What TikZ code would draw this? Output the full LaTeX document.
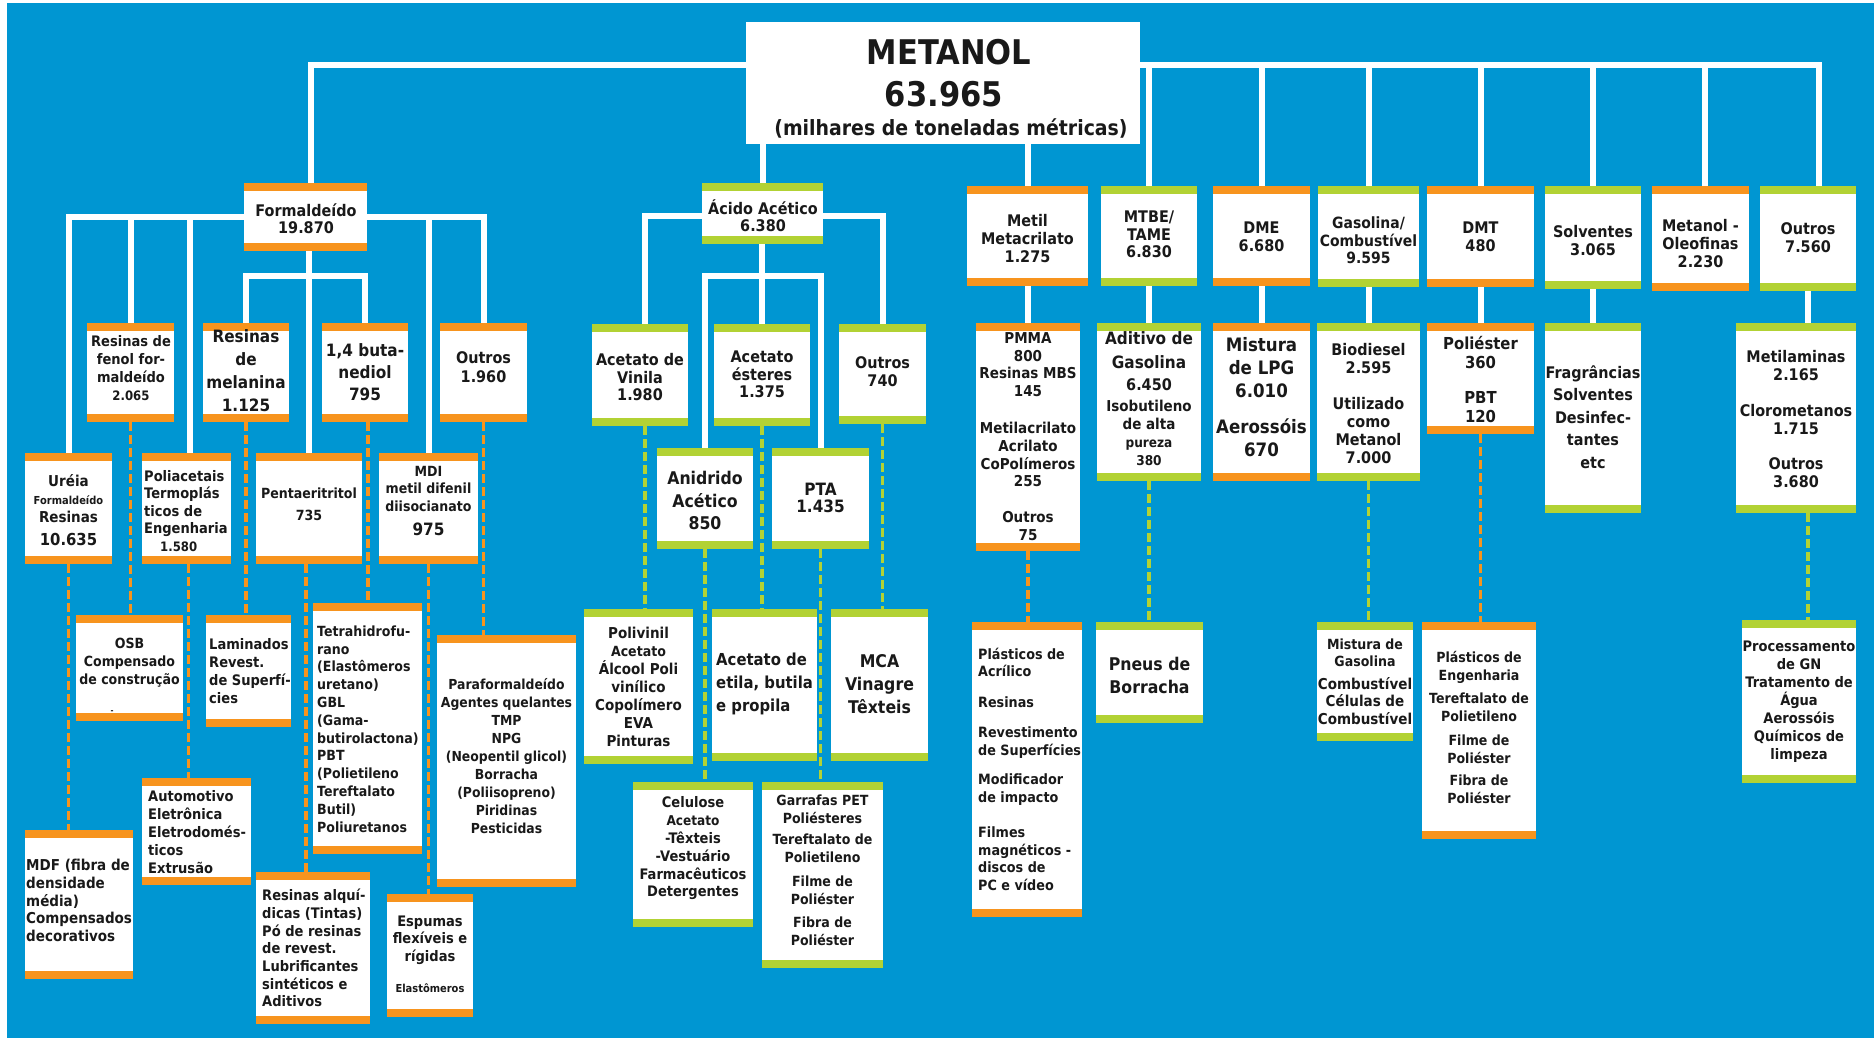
\documentclass[tikz,border=0pt]{standalone}
\usepackage{fontspec}
\setmainfont{DejaVu Sans}[FakeStretch=0.9]
\definecolor{sky}{RGB}{0,150,210}
\definecolor{amber}{RGB}{247,148,30}
\definecolor{lime}{RGB}{178,210,52}
\definecolor{ink}{RGB}{25,25,25}
\pgfdeclarelayer{back}
\pgfdeclarelayer{wires}
\pgfsetlayers{back,wires,main}
\newcommand\tsz[1]{\fontsize{#1}{#1}\selectfont}
\tikzset{
  panel/.style={fill=white, inner sep=0pt, outer sep=0pt, path picture={
      \fill[#1] (path picture bounding box.north west) rectangle ([yshift=-8pt]path picture bounding box.north east);
      \fill[#1] ([yshift=8pt]path picture bounding box.south west) rectangle (path picture bounding box.south east);}},
  conn/.style={draw=white, line width=6pt},
  dashline/.style={draw=#1, line width=3.5pt, dash pattern=on 9pt off 4pt},
  lbl/.style 2 args={inner sep=0pt, align=center, text=ink, font=\bfseries\fontsize{#1}{#2}\selectfont},
  lbll/.style 2 args={lbl={#1}{#2}, align=left, anchor=west},
}
% product box: name, x1, y1, x2, y2, bar colour
\newcommand\pbox[6]{\node[panel=#6, minimum width={(#4-#2)*1pt}, minimum height={(#5-#3)*1pt}] (#1) at ({(#2+#4)/2},{(#3+#5)/2}) {};}
\begin{document}
\begin{tikzpicture}[x=1pt, y=-1pt]
\useasboundingbox (0,0) rectangle (1874,1038);
\begin{pgfonlayer}{back}
  \fill[white] (0,0) rectangle (1874,1038);
  \fill[sky] (7,3) rectangle (1874,1038);
\end{pgfonlayer}

% root
\node[fill=white, inner sep=0pt, minimum width=394pt, minimum height=122pt] (metanol) at (943,83) {};
\node[lbl={34}{40}] (t-met1) at (949,52) {METANOL};
\node[lbl={34}{40}] (t-met2) at (944,94) {63.965};
\node[lbl={21}{24}] (t-met3) at (951,128) {(milhares de toneladas métricas)};

% formaldehyde branch
\pbox{form}{244}{183}{367}{251}{amber}
\pbox{fenol}{87}{323}{174}{422}{amber}
\pbox{mel}{203}{323}{289}{422}{amber}
\pbox{buta}{322}{323}{408}{422}{amber}
\pbox{out1}{440}{323}{527}{422}{amber}
\pbox{ureia}{25}{453}{112}{564}{amber}
\pbox{poli}{142}{453}{231}{564}{amber}
\pbox{penta}{256}{453}{362}{564}{amber}
\pbox{mdi}{379}{453}{478}{564}{amber}
\pbox{osb}{76}{615}{183}{721}{amber}
\pbox{lam}{206}{615}{291}{727}{amber}
\pbox{tetra}{313}{603}{422}{854}{amber}
\pbox{para}{437}{635}{576}{887}{amber}
\pbox{mdf}{25}{830}{133}{979}{amber}
\pbox{auto}{142}{778}{251}{885}{amber}
\pbox{alq}{256}{872}{370}{1024}{amber}
\pbox{esp}{387}{894}{473}{1017}{amber}

% acetic acid branch
\pbox{acet}{702}{183}{823}{244}{lime}
\pbox{vin}{592}{324}{688}{426}{lime}
\pbox{est}{714}{324}{810}{426}{lime}
\pbox{o740}{839}{324}{926}{424}{lime}
\pbox{anid}{657}{448}{753}{549}{lime}
\pbox{pta}{772}{448}{869}{549}{lime}
\pbox{poliv}{584}{609}{693}{764}{lime}
\pbox{etil}{712}{609}{817}{761}{lime}
\pbox{mca}{831}{609}{928}{761}{lime}
\pbox{celu}{633}{782}{753}{927}{lime}
\pbox{garr}{762}{782}{883}{968}{lime}

% remaining branches
\pbox{metil}{967}{186}{1088}{286}{amber}
\pbox{mtbe}{1101}{186}{1197}{286}{lime}
\pbox{dme}{1213}{186}{1310}{286}{amber}
\pbox{gas}{1318}{186}{1419}{287}{lime}
\pbox{dmt}{1427}{186}{1534}{287}{amber}
\pbox{solv}{1545}{186}{1641}{289}{lime}
\pbox{oleo}{1652}{186}{1749}{291}{amber}
\pbox{out7}{1760}{186}{1856}{291}{lime}
\pbox{pmma}{976}{323}{1080}{551}{amber}
\pbox{adit}{1097}{323}{1201}{481}{lime}
\pbox{lpg}{1213}{323}{1310}{481}{amber}
\pbox{bio}{1317}{323}{1420}{481}{lime}
\pbox{poles}{1427}{323}{1534}{434}{amber}
\pbox{frag}{1545}{323}{1641}{513}{lime}
\pbox{mtla}{1736}{323}{1856}{513}{lime}
\pbox{acril}{972}{622}{1082}{917}{amber}
\pbox{pneu}{1096}{622}{1203}{723}{lime}
\pbox{mgas}{1317}{622}{1413}{741}{lime}
\pbox{peng}{1422}{622}{1536}{839}{amber}
\pbox{proc}{1742}{620}{1856}{783}{lime}

% labels: formaldehyde branch
\node[lbl={16}{17}] (t-form) at (306,218.5) {Formaldeído\\19.870};
\node[lbl={14.5}{18}] (t-fenol) at (131,368) {Resinas de\\fenol for-\\maldeído\\{\tsz{13}2.065}};
\node[lbl={17}{23}] (t-mel) at (246,370.5) {Resinas\\de\\melanina\\1.125};
\node[lbl={17}{22}] (t-buta) at (365,372) {1,4 buta-\\nediol\\795};
\node[lbl={16}{19}] (t-out1) at (483.5,367.5) {Outros\\1.960};
\node[lbl={15}{18}] (t-ureia) at (68.5,510.5) {Uréia\\{\tsz{11}Formaldeído}\\Resinas\\[5pt]{\tsz{16.5}10.635}};
\node[lbll={14.5}{17.5}] (t-poli) at (144,511) {Poliacetais\\Termoplás\\ticos de\\Engenharia\\\hspace*{16pt}{\tsz{13}1.580}};
\node[lbl={14}{22}] (t-penta) at (309,504) {Pentaeritritol\\735};
\node[lbl={14}{17.5}] (t-mdi) at (428.5,501) {MDI\\metil difenil\\diisocianato\\[7pt]{\tsz{17}975}};
\node[lbl={14}{18}] (t-osb) at (129.5,663) {OSB\\Compensado\\de construção};
\node[lbl={8}{8}] (t-osbm) at (112,712) {-};
\node[lbll={14.5}{18}] (t-lam) at (209,671) {Laminados\\Revest.\\de Superfí-\\cies};
\node[lbll={14}{17.8}] (t-tetra) at (317,729) {Tetrahidrofu-\\rano\\(Elastômeros\\uretano)\\GBL\\(Gama-\\butirolactona)\\PBT\\(Polietileno\\Tereftalato\\Butil)\\Poliuretanos};
\node[lbl={13.8}{18}] (t-para) at (506.5,756) {Paraformaldeído\\Agentes quelantes\\TMP\\NPG\\(Neopentil glicol)\\Borracha\\(Poliisopreno)\\Piridinas\\Pesticidas};
\node[lbll={15}{17.75}] (t-mdf) at (26,900.5) {MDF (fibra de\\densidade\\média)\\Compensados\\decorativos};
\node[lbll={14.5}{18}] (t-auto) at (148,832) {Automotivo\\Eletrônica\\Eletrodomés-\\ticos\\Extrusão};
\node[lbll={14.5}{17.7}] (t-alq) at (262,948) {Resinas alquí-\\dicas (Tintas)\\Pó de resinas\\de revest.\\Lubrificantes\\sintéticos e\\Aditivos};
\node[lbl={14.5}{17.5}] (t-esp) at (430,954.5) {Espumas\\flexíveis e\\rígidas\\[14pt]{\tsz{11}Elastômeros}};

% labels: acetic acid branch
\node[lbl={16}{17}] (t-acet) at (763,215.5) {Ácido Acético\\6.380};
\node[lbl={16}{17.5}] (t-vin) at (640,377.5) {Acetato de\\Vinila\\1.980};
\node[lbl={16}{17.5}] (t-est) at (762,374.5) {Acetato\\ésteres\\1.375};
\node[lbl={16}{18}] (t-o740) at (882.5,372) {Outros\\740};
\node[lbl={17.5}{22.5}] (t-anid) at (705,500.5) {Anidrido\\Acético\\850};
\node[lbl={17}{17}] (t-pta) at (820.5,497.5) {PTA\\1.435};
\node[lbl={15}{18}] (t-poliv) at (638.5,687) {Polivinil\\{\tsz{14}Acetato}\\Álcool Poli\\vinílico\\Copolímero\\EVA\\Pinturas};
\node[lbll={16.5}{23}] (t-etil) at (716,684) {Acetato de\\etila, butila\\e propila};
\node[lbl={17.5}{23}] (t-mca) at (879.5,684) {MCA\\Vinagre\\Têxteis};
\node[lbl={14.5}{17.8}] (t-celu) at (693,848.5) {Celulose\\{\tsz{13.5}Acetato}\\-Têxteis\\-Vestuário\\Farmacêuticos\\Detergentes};
\node[lbl={14}{18}] (t-garr) at (822.5,870.5) {Garrafas PET\\Poliésteres\\[3pt]Tereftalato de\\Polietileno\\[6pt]Filme de\\Poliéster\\[5pt]Fibra de\\Poliéster};

% labels: remaining branches
\node[lbl={16}{18}] (t-metil) at (1027.5,239) {Metil\\Metacrilato\\1.275};
\node[lbl={16}{17.5}] (t-mtbe) at (1149,234.5) {MTBE/\\TAME\\6.830};
\node[lbl={16}{18}] (t-dme) at (1261.5,237) {DME\\6.680};
\node[lbl={15.5}{17.5}] (t-gas) at (1368.5,240.5) {Gasolina/\\Combustível\\9.595};
\node[lbl={16}{18}] (t-dmt) at (1480.5,237) {DMT\\480};
\node[lbl={16}{18}] (t-solv) at (1593,241) {Solventes\\3.065};
\node[lbl={16}{18}] (t-oleo) at (1700.5,244) {Metanol -\\Oleofinas\\2.230};
\node[lbl={16}{18}] (t-out7) at (1808,238) {Outros\\7.560};
\node[lbl={15}{17.8}] (t-pmma) at (1028,436.5) {PMMA\\800\\Resinas MBS\\145\\[19pt]Metilacrilato\\Acrilato\\CoPolímeros\\255\\[18pt]Outros\\75};
\node[lbl={17}{18}] (t-adit) at (1149,399) {Aditivo de\\[6pt]Gasolina\\[4pt]{\tsz{16}6.450}\\[3pt]{\tsz{15}Isobutileno}\\{\tsz{15}de alta}\\{\tsz{13.5}pureza}\\{\tsz{13.5}380}};
\node[lbl={18.5}{23}] (t-lpg) at (1261.5,397.5) {Mistura\\de LPG\\6.010\\[13pt]Aerossóis\\670};
\node[lbl={16}{18}] (t-bio) at (1368.5,403.5) {Biodiesel\\2.595\\[18pt]Utilizado\\como\\Metanol\\7.000};
\node[lbl={16.5}{19}] (t-poles) at (1480.5,379.5) {Poliéster\\360\\[16pt]PBT\\120};
\node[lbl={16}{22.5}] (t-frag) at (1593,417) {Fragrâncias\\Solventes\\Desinfec-\\tantes\\etc};
\node[lbl={16}{18}] (t-mtla) at (1796,419.5) {Metilaminas\\2.165\\[18pt]Clorometanos\\1.715\\[17pt]Outros\\3.680};
\node[lbll={14.2}{17.5}] (t-acril) at (978,769) {Plásticos de\\Acrílico\\[13pt]Resinas\\[13pt]Revestimento\\de Superfícies\\[12pt]Modificador\\de impacto\\[18pt]Filmes\\magnéticos -\\discos de\\PC e vídeo};
\node[lbl={17.5}{23}] (t-pneu) at (1149.5,675.5) {Pneus de\\Borracha};
\node[lbl={15}{17.5}] (t-mgas) at (1365,681.5) {{\tsz{14}Mistura de}\\{\tsz{14}Gasolina}\\[5pt]Combustível\\Células de\\Combustível};
\node[lbl={14}{18}] (t-peng) at (1479,727) {Plásticos de\\Engenharia\\[5pt]Tereftalato de\\Polietileno\\[6pt]Filme de\\Poliéster\\[4pt]Fibra de\\Poliéster};
\node[lbl={14.5}{18}] (t-proc) at (1799,701.5) {Processamento\\de GN\\Tratamento de\\Água\\Aerossóis\\Químicos de\\limpeza};

% connectors
\begin{pgfonlayer}{wires}
  \coordinate (busT) at (0,65);
  \coordinate (ftop) at ([xshift=5pt]form.north);
  \coordinate (o7top) at ([xshift=11pt]out7.north);
  \coordinate (oltop) at ([xshift=4pt]oleo.north);
  \draw[conn] (ftop) |- (o7top |- busT) -- (o7top);
  \foreach \n in {mtbe,dme,gas,dmt,solv} \draw[conn] (\n.north) -- (\n.north |- busT);
  \draw[conn] (oltop) -- (oltop |- busT);
  \draw[conn] (acet.north |- metanol.south) -- (acet.north);
  \draw[conn] (metil.north |- metanol.south) -- (metil.north);

  % formaldehyde
  \coordinate (busF) at (0,217);
  \coordinate (busF2) at (0,276);
  \draw[conn] (ureia.north) |- (out1.north |- busF) -- (out1.north);
  \draw[conn] (fenol.north) -- (fenol.north |- busF);
  \draw[conn] ([xshift=3pt]poli.north) -- ([xshift=3pt]poli.north |- busF);
  \draw[conn] (mdi.north) -- (mdi.north |- busF);
  \draw[conn] (penta.north |- form.south) -- (penta.north);
  \draw[conn] (mel.north) |- (buta.north |- busF2) -- (buta.north);
  \draw[dashline=amber] (ureia.south) -- (ureia.south |- mdf.north);
  \draw[dashline=amber] (fenol.south) -- (fenol.south |- osb.north);
  \draw[dashline=amber] ([xshift=2pt]poli.south) -- ([xshift=2pt]poli.south |- auto.north);
  \draw[dashline=amber] (mel.south) -- (mel.south |- lam.north);
  \draw[dashline=amber] ([xshift=3pt]buta.south) -- ([xshift=3pt]buta.south |- tetra.north);
  \draw[dashline=amber] ([xshift=-3pt]penta.south) -- ([xshift=-3pt]penta.south |- alq.north);
  \draw[dashline=amber] (mdi.south) -- (mdi.south |- esp.north);
  \draw[dashline=amber] (out1.south) -- (out1.south |- para.north);

  % acetic acid
  \coordinate (busA) at (0,216);
  \coordinate (busA2) at (0,276);
  \draw[conn] ([xshift=5pt]vin.north) |- (o740.north |- busA) -- (o740.north);
  \draw[conn] (est.north |- acet.south) -- (est.north);
  \draw[conn] (anid.north) |- (pta.north |- busA2) -- (pta.north);
  \draw[dashline=lime] ([xshift=5pt]vin.south) -- ([xshift=5pt]vin.south |- poliv.north);
  \draw[dashline=lime] (anid.south) -- (anid.south |- celu.north);
  \draw[dashline=lime] (est.south) -- (est.south |- etil.north);
  \draw[dashline=lime] (pta.south) -- (pta.south |- garr.north);
  \draw[dashline=lime] (o740.south) -- (o740.south |- mca.north);

  % remaining
  \draw[conn] (metil.south) -- (metil.south |- pmma.north);
  \draw[conn] (mtbe.south) -- (mtbe.south |- adit.north);
  \draw[conn] (dme.south) -- (dme.south |- lpg.north);
  \draw[conn] (gas.south) -- (gas.south |- bio.north);
  \draw[conn] (dmt.south) -- (dmt.south |- poles.north);
  \draw[conn] (solv.south) -- (solv.south |- frag.north);
  \draw[conn] (out7.south) -- (out7.south |- mtla.north);
  \draw[dashline=amber] (pmma.south) -- (pmma.south |- acril.north);
  \draw[dashline=lime] (adit.south) -- (adit.south |- pneu.north);
  \draw[dashline=lime] (bio.south) -- (bio.south |- mgas.north);
  \draw[dashline=amber] (poles.south) -- (poles.south |- peng.north);
  \draw[dashline=lime] (out7.south |- mtla.south) -- (out7.south |- proc.north);
\end{pgfonlayer}
\end{tikzpicture}
\end{document}
